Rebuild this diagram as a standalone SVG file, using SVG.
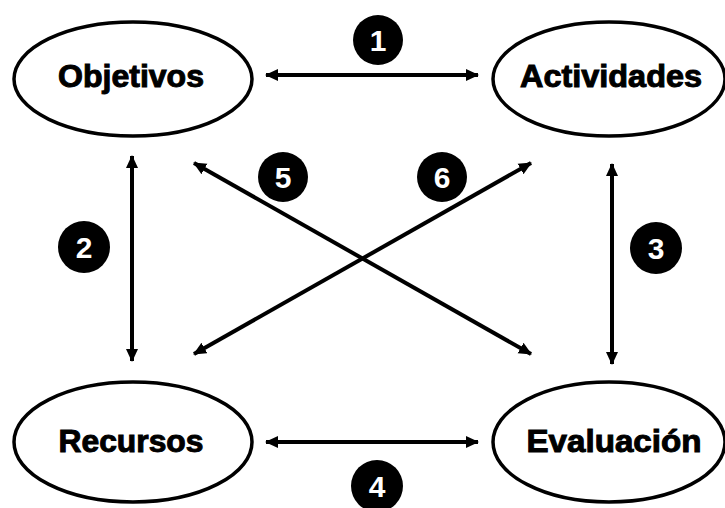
<svg xmlns="http://www.w3.org/2000/svg" width="725" height="508" viewBox="0 0 725 508">
<style>
.node ellipse{fill:#fff;stroke:#000;stroke-width:3.5}
.node text{font-family:"Liberation Sans",Arial,sans-serif;font-weight:bold;font-size:31px;fill:#000;stroke:#000;stroke-width:1;text-anchor:middle}
.conn line{stroke:#000;stroke-width:4}
.badge circle{fill:#000}
.badge text{font-family:"Liberation Sans",Arial,sans-serif;font-weight:bold;font-size:30px;fill:#fff;text-anchor:middle}
</style>
<defs>
<marker id="ah" markerUnits="userSpaceOnUse" markerWidth="14" markerHeight="14" refX="12" refY="7" orient="auto-start-reverse" viewBox="0 0 14 14">
<path d="M0,1 L13,7 L0,13 Z" fill="#000"/>
</marker>
</defs>
<rect width="725" height="508" fill="#fff"/>
<g id="objetivos" class="node"><ellipse cx="133" cy="79" rx="119" ry="57"/><text x="131" y="87" textLength="146" lengthAdjust="spacingAndGlyphs">Objetivos</text></g>
<g id="actividades" class="node"><ellipse cx="609" cy="79" rx="116" ry="57"/><text x="611" y="87" textLength="182" lengthAdjust="spacingAndGlyphs">Actividades</text></g>
<g id="recursos" class="node"><ellipse cx="133" cy="442" rx="119" ry="60"/><text x="131" y="452" textLength="145" lengthAdjust="spacingAndGlyphs">Recursos</text></g>
<g id="evaluacion" class="node"><ellipse cx="609" cy="442" rx="116" ry="60"/><text x="614" y="452" textLength="175" lengthAdjust="spacingAndGlyphs">Evaluación</text></g>
<g id="connectors" class="conn">
<line x1="266" y1="75" x2="478" y2="75" marker-start="url(#ah)" marker-end="url(#ah)"/>
<line x1="132" y1="156" x2="132" y2="361" marker-start="url(#ah)" marker-end="url(#ah)"/>
<line x1="612" y1="164" x2="612" y2="364" marker-start="url(#ah)" marker-end="url(#ah)"/>
<line x1="266" y1="442" x2="478" y2="442" marker-start="url(#ah)" marker-end="url(#ah)"/>
<line x1="194" y1="163" x2="531" y2="354" marker-start="url(#ah)" marker-end="url(#ah)"/>
<line x1="194" y1="354" x2="531" y2="163" marker-start="url(#ah)" marker-end="url(#ah)"/>
</g>
<g id="badge1" class="badge"><circle cx="378" cy="40" r="25"/><text x="378" y="51">1</text></g>
<g id="badge2" class="badge"><circle cx="84" cy="247" r="26"/><text x="84" y="258">2</text></g>
<g id="badge3" class="badge"><circle cx="656" cy="248" r="26"/><text x="656" y="259">3</text></g>
<g id="badge4" class="badge"><circle cx="377" cy="486" r="26"/><text x="377" y="497">4</text></g>
<g id="badge5" class="badge"><circle cx="283" cy="177" r="25"/><text x="283" y="188">5</text></g>
<g id="badge6" class="badge"><circle cx="442" cy="177" r="25"/><text x="442" y="188">6</text></g>
</svg>
